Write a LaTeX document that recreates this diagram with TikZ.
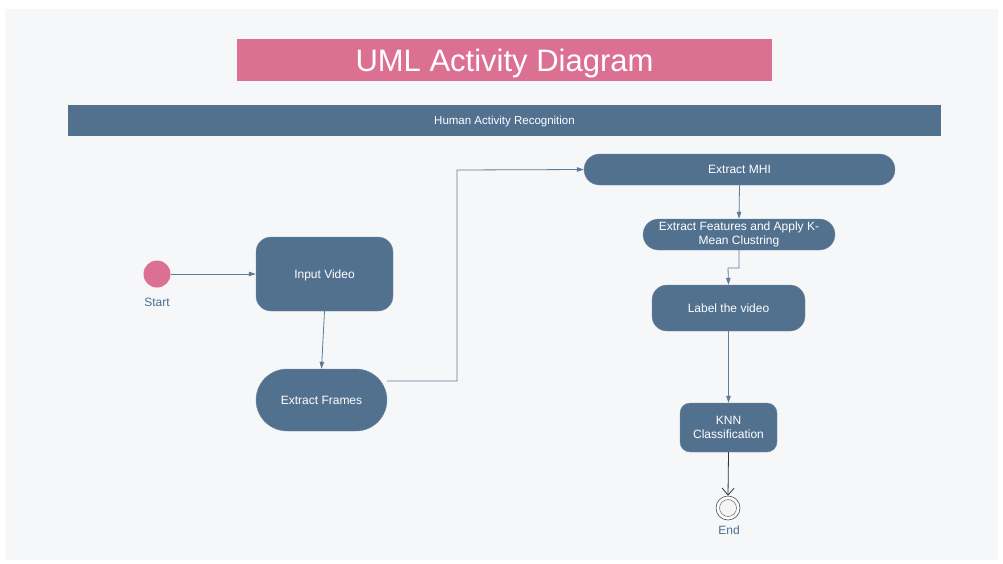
\documentclass[tikz,border=0pt]{standalone}
\usepackage{fontspec}
\setmainfont{Liberation Sans}
\usetikzlibrary{arrows.meta,positioning}
\definecolor{panelbg}{HTML}{F5F7F9}
\definecolor{actfill}{HTML}{52718F}
\definecolor{pinkfill}{HTML}{DC7093}
\definecolor{wire}{HTML}{5F7C97}
\definecolor{labeltxt}{HTML}{4A6E8E}
\tikzset{
  act/.style={fill=actfill, draw=actfill!80!white, text=white, align=center,
    font=\fontsize{12}{14.5}\selectfont, inner sep=0pt},
  oneline/.style={text depth=0pt},
  flow/.style={draw=wire, line width=0.8pt, -{Triangle[length=7pt,width=4.5pt]}},
  caption/.style={text=labeltxt, font=\fontsize{12}{14}\selectfont},
}
\begin{document}
\begin{tikzpicture}[x=1pt,y=-1pt]
  % page and panel
  \fill[white] (0,0) rectangle (1003,563);
  \useasboundingbox (0,0) rectangle (1003,563);
  \fill[panelbg] (5,9) rectangle (998,560);

  % title and swimlane header
  \node[fill=pinkfill, minimum width=535pt, minimum height=42pt, inner sep=0pt, text depth=0pt,
        text=white, font=\fontsize{31}{35}\selectfont] (title) at (504.5,60) {UML Activity Diagram};
  \node[fill=actfill, minimum width=873pt, minimum height=31pt, inner sep=0pt, text depth=0pt,
        text=white, font=\fontsize{11.5}{13}\selectfont] (lane) at (504.5,120.5) {Human Activity Recognition};

  % initial node
  \node[circle, fill=pinkfill, minimum size=27pt, inner sep=0pt] (start) at (157,274) {};
  \node[caption] (startlbl) at (157,302.5) {Start};

  % activities
  \node[act, oneline, rounded corners=15pt, minimum width=137pt, minimum height=74pt] (input) at (324.5,274) {Input Video};
  \node[act, oneline, rounded corners=31pt, minimum width=131pt, minimum height=62pt] (frames) at (321.5,400) {Extract Frames};
  \node[act, oneline, rounded corners=15.5pt, minimum width=311pt, minimum height=31pt] (mhi) at (739.5,169.5) {Extract MHI};
  \node[act, rounded corners=15.5pt, minimum width=192pt, minimum height=31pt] (feat) at (739,234.5) {Extract Features and Apply K-\\Mean Clustring};
  \node[act, oneline, rounded corners=15pt, minimum width=153pt, minimum height=46pt] (label) at (728.5,308) {Label the video};
  \node[act, rounded corners=10pt, minimum width=97pt, minimum height=49pt] (knn) at (728.5,427.5) {KNN\\Classification};

  % final node
  \node[circle, draw=black!70, line width=0.6pt, fill=white, minimum size=24pt, inner sep=0pt] (end) at (728,508) {};
  \node[circle, draw=black!60, line width=0.5pt, fill=black!4, minimum size=17pt, inner sep=0pt] (endin) at (end) {};
  \node[caption] (endlbl) at (729,530.5) {End};

  % control flows
  \coordinate (f1) at (457,381);
  \coordinate (f2) at (457,170);
  \coordinate (g1) at (739,268);
  \coordinate (g2) at (728,268);
  \draw[flow] (start.east) -- (input.west);
  \draw[flow] (input.south) -- (frames.north);
  \draw[flow] (frames.east |- f1) -- (f1) -- (f2) -- (mhi.west);
  \draw[flow] (mhi.south) -- (feat.north);
  \draw[flow] (feat.south) -- (g1) -- (g2) -- (label.north);
  \draw[flow] (label.south) -- (knn.north);
  \draw[draw=black!80, line width=0.8pt, -{Straight Barb[length=7pt,width=12pt]}] (knn.south) -- (end.north);
\end{tikzpicture}
\end{document}
